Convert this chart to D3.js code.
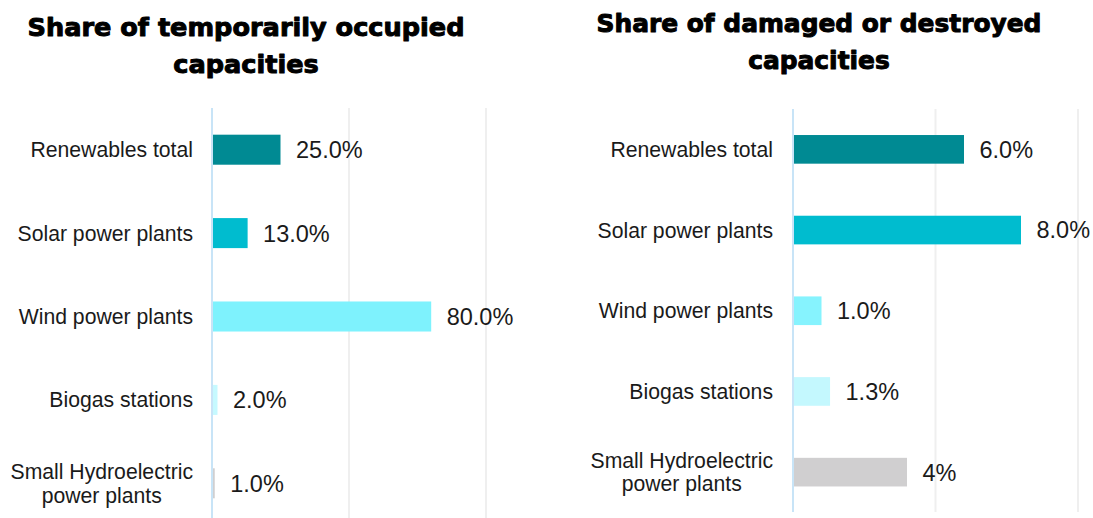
<!DOCTYPE html>
<html><head><meta charset="utf-8">
<script src="https://cdn.jsdelivr.net/npm/d3@7"></script>
<style>body{margin:0;background:#fff}</style>
</head><body>
<svg id="c" width="1093" height="518"></svg>
<script>
const categories = ["Renewables total","Solar power plants","Wind power plants","Biogas stations","Small Hydroelectric\npower plants"];
const occupiedValues = [25.0, 13.0, 80.0, 2.0, 1.0];
const occupiedLabels = ["25.0%","13.0%","80.0%","2.0%","1.0%"];
const damagedValues = [6.0, 8.0, 1.0, 1.3, 4.0];
const damagedLabels = ["6.0%","8.0%","1.0%","1.3%","4%"];
const occupiedTicks = [0, 50, 100];
const damagedTicks = [0, 5, 10];
const leftColors = ["#008a93","#00bccf","#7ef2fd","#c6f9ff","#d0cfd0"];
const rightColors = ["#008a93","#00bccf","#86f3fe","#c4f8fe","#d0cfd0"];

const svg = d3.select("#c");
const FONT = "'Liberation Sans', Arial, sans-serif";

function panel(o){
  const g = svg.append("g");
  const x = d3.scaleLinear().domain(o.domain).range(o.xr);
  const y = d3.scaleBand().domain(categories).range(o.yr).paddingInner(o.pad).paddingOuter(o.pad/2);
  g.selectAll("line.grid").data(o.ticks.slice(1)).join("line")
    .attr("x1", d=>x(d)).attr("x2", d=>x(d))
    .attr("y1", o.axisTop).attr("y2", o.axisBottom)
    .attr("stroke", "#efefef").attr("stroke-width", 2);
  g.selectAll("rect").data(o.values).join("rect")
    .attr("x", x(0)).attr("y", (d,i)=>y(categories[i]))
    .attr("width", d=>x(d)-x(0)).attr("height", y.bandwidth())
    .attr("fill", (d,i)=>o.colors[i]);
  g.append("line").attr("x1", x(0)).attr("x2", x(0))
    .attr("y1", o.axisTop).attr("y2", o.axisBottom)
    .attr("stroke", "#c8e4f7").attr("stroke-width", 2);
  categories.forEach((c,i)=>{
    const lines = c.split("\n");
    const cy = y(c) + y.bandwidth()/2;
    const fs = 21.2;
    const lh = 23.5;
    const t = g.append("text").attr("font-family", FONT).attr("font-size", fs)
      .attr("fill", "#1a1a1a");
    if(lines.length === 1){
      t.attr("x", x(0) - o.labGap).attr("y", cy + fs*0.716/2).attr("text-anchor","end").text(c);
    } else {
      const tmp = g.append("text").attr("font-family", FONT).attr("font-size", fs).text(lines[0]);
      const w = tmp.node().getComputedTextLength(); tmp.remove();
      const cx = x(0) - o.labGap - w/2;
      const top = cy - (fs*0.716 + lh)/2;
      lines.forEach((l,k)=>{
        t.append("tspan").attr("x", cx).attr("y", top + fs*0.716 + k*lh)
          .attr("text-anchor","middle").text(l);
      });
    }
  });
  g.selectAll("text.val").data(o.values).join("text").attr("class","val")
    .attr("x", d=>x(d) + 15.5)
    .attr("y", (d,i)=>y(categories[i]) + y.bandwidth()/2 + 23.5*0.716/2)
    .attr("font-family", FONT).attr("font-size", 23.5).attr("fill", "#1a1a1a")
    .text((d,i)=>o.labels[i]);
  o.title.forEach((line,k)=>{
    const t = svg.append("text").attr("font-family","'DejaVu Sans', sans-serif")
      .attr("font-weight","bold").attr("font-size",100).attr("fill","#000")
      .attr("text-anchor","middle").attr("x", o.titleX).attr("y", o.titleY[k]).text(line);
    if(k===0){
      const w = t.node().getComputedTextLength();
      o._fs = 100 * (o.titleW - 1) / w;
    }
    t.attr("font-size", o._fs).attr("stroke","#000").attr("stroke-width",1)
      .attr("stroke-linejoin","round");
  });
}

panel({
  domain:[0,100], xr:[212,486], yr:[108,525], pad:0.64,
  axisTop:108, axisBottom:518, ticks: occupiedTicks,
  values: occupiedValues, labels: occupiedLabels, colors: leftColors, labGap:19,
  title:["Share of temporarily occupied","capacities"], titleX:246, titleY:[36,73], titleW:438
});
panel({
  domain:[0,10], xr:[793,1078], yr:[109,512.5], pad:0.645,
  axisTop:109, axisBottom:512, ticks: damagedTicks,
  values: damagedValues, labels: damagedLabels, colors: rightColors, labGap:20,
  title:["Share of damaged or destroyed","capacities"], titleX:819, titleY:[32,69], titleW:446
});
</script>
</body></html>
